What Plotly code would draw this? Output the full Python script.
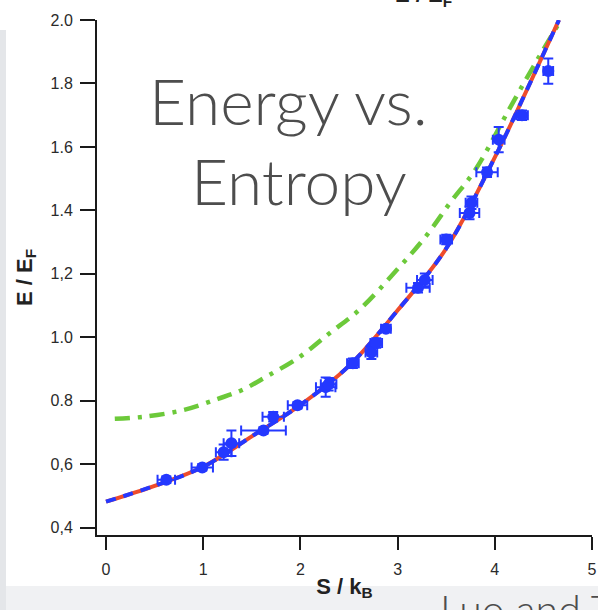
import plotly.graph_objects as go

W, H = 598, 610
ML, MR, MT, MB = 97, 6, 20, 75
PW = W - ML - MR
PH = H - MT - MB


def px(xp):
    return (xp - ML) / PW


def py(yp):
    return (H - MB - yp) / PH


# measured points (entropy S/kB, energy E/EF) with error bars
S_data = [0.62, 0.99, 1.21, 1.29, 1.62, 1.72, 1.97, 2.26, 2.29, 2.54, 2.73, 2.78, 2.88,
          3.21, 3.28, 3.50, 3.74, 3.76, 3.92, 4.04, 4.28, 4.55]
E_data = [0.551, 0.590, 0.638, 0.666, 0.706, 0.750, 0.786, 0.843, 0.852, 0.918, 0.952,
          0.982, 1.027, 1.156, 1.181, 1.308, 1.392, 1.424, 1.520, 1.623, 1.700, 1.839]
S_err = [0.09, 0.11, 0.08, 0.08, 0.23, 0.11, 0.10, 0.10, 0.08, 0.06, 0.06, 0.06, 0.05,
         0.12, 0.08, 0.06, 0.10, 0.06, 0.11, 0.06, 0.06, 0.05]
E_err = [0.010, 0.010, 0.024, 0.040, 0.010, 0.015, 0.010, 0.030, 0.020, 0.015, 0.020,
         0.015, 0.010, 0.015, 0.020, 0.015, 0.020, 0.020, 0.015, 0.040, 0.015, 0.040]

# fit curve (red solid + blue dashed)
fit_S = [0.0, 0.5, 1.0, 1.5, 2.0, 2.5, 3.0, 3.5, 4.0, 4.3, 4.66]
fit_E = [0.482, 0.532, 0.592, 0.688, 0.787, 0.910, 1.085, 1.280, 1.567, 1.760, 2.0]

# green dash-dot curve
grn_S = [0.09, 0.4, 0.8, 1.15, 1.4, 1.65, 2.0, 2.3, 2.6, 3.0, 3.3, 3.55, 3.8, 4.15, 4.4, 4.68]
grn_E = [0.743, 0.750, 0.771, 0.806, 0.834, 0.876, 0.940, 1.013, 1.085, 1.215, 1.322,
         1.428, 1.528, 1.720, 1.855, 2.0]

y_ticks = [0.4, 0.6, 0.8, 1.0, 1.2, 1.4, 1.6, 1.8, 2.0]
y_text = ["0,4", "0,6", "0.8", "1.0", "1,2", "1.4", "1.6", "1.8", "2.0"]
x_ticks = [0, 1, 2, 3, 4, 5]
x_text = ["0", "1", "2", "3", "4", "5"]

BLUE = "#2438ff"

fig = go.Figure()
fig.add_trace(go.Scatter(x=grn_S, y=grn_E, mode="lines",
                         line=dict(color="#6cc93a", width=4.5, dash="15px,8px,4px,8px", shape="spline"),
                         hoverinfo="skip"))
fig.add_trace(go.Scatter(x=fit_S, y=fit_E, mode="lines",
                         line=dict(color="#ee4c2c", width=4, shape="spline"), hoverinfo="skip"))
fig.add_trace(go.Scatter(x=fit_S, y=fit_E, mode="lines",
                         line=dict(color=BLUE, width=4, dash="10px,8px", shape="spline"), hoverinfo="skip"))
fig.add_trace(go.Scatter(x=S_data, y=E_data, mode="markers",
                         marker=dict(color=BLUE, size=12),
                         error_x=dict(type="data", array=S_err, color=BLUE, thickness=2, width=5),
                         error_y=dict(type="data", array=E_err, color=BLUE, thickness=2, width=5)))

tickfont = dict(family="Liberation Sans, Arial, sans-serif", size=16, color="#2a2a2a")
titlefont = dict(family="Liberation Sans, Arial, sans-serif", size=22, color="#222222")

fig.update_layout(
    width=W, height=H,
    margin=dict(l=ML, r=MR, t=MT, b=MB, pad=0),
    paper_bgcolor="white", plot_bgcolor="white",
    showlegend=False,
    xaxis=dict(range=[-0.093, 5.0], tickvals=x_ticks, ticktext=x_text, ticks="outside",
               ticklen=13, tickwidth=2, tickcolor="#1a1a1a", showline=True, linewidth=2,
               linecolor="#1a1a1a", showgrid=False, zeroline=False, tickfont=tickfont,
               ticklabelstandoff=6,
               title=dict(text="<b>S / k<sub>B</sub></b>", font=titlefont, standoff=1),
               automargin=False),
    yaxis=dict(range=[0.377, 2.0], tickvals=y_ticks, ticktext=y_text, ticks="outside",
               ticklen=15, tickwidth=2, tickcolor="#1a1a1a", showline=True, linewidth=2,
               linecolor="#1a1a1a", showgrid=False, zeroline=False, tickfont=tickfont,
               ticklabelstandoff=4,
               title=dict(text="<b>E / E<sub>F</sub></b>", font=titlefont, standoff=12),
               automargin=False),
)

thin = dict(family="Lato, 'Open Sans', sans-serif", color="#4d4d4d", weight=300)
fig.add_annotation(text="Energy vs.", xref="paper", yref="paper", x=px(288), y=py(100),
                   xanchor="center", yanchor="middle", showarrow=False, font=dict(size=64, **thin))
fig.add_annotation(text="Entropy", xref="paper", yref="paper", x=px(299), y=py(180),
                   xanchor="center", yanchor="middle", showarrow=False, font=dict(size=64, **thin))
fig.add_annotation(text="Luo and Thomas", xref="paper", yref="paper", x=px(438), y=py(583),
                   xanchor="left", yanchor="top", showarrow=False, font=dict(size=41, **thin))
fig.add_annotation(text="<b>E / E<sub>F</sub></b>", xref="paper", yref="paper", x=px(423), y=py(12),
                   xanchor="center", yanchor="bottom", showarrow=False, font=titlefont)

# slide background strips
fig.add_shape(type="rect", xref="paper", yref="paper", x0=px(0), x1=px(W), y0=py(H), y1=py(586),
              fillcolor="#f0f1f3", line=dict(width=0), layer="below")
fig.add_shape(type="rect", xref="paper", yref="paper", x0=px(0), x1=px(6), y0=py(H), y1=py(30),
              fillcolor="#e4e6e9", line=dict(width=0), layer="below")

fig.write_html("out.html")
